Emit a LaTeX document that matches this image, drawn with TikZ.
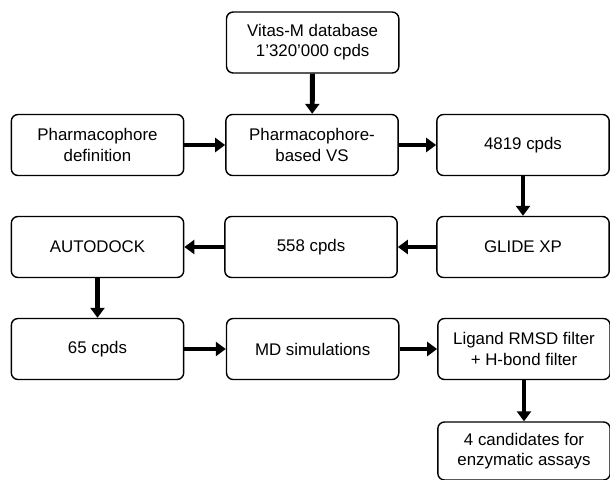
\documentclass[tikz,border=0pt]{standalone}
\usepackage{fontspec}
\setmainfont{Liberation Sans}
\usetikzlibrary{arrows.meta}

\begin{document}
\begin{tikzpicture}[
  >={Triangle[length=0.3cm,width=0.42cm]},
  every node/.style={font=\fontsize{14.4}{17.3}\selectfont},
  step box/.style={rectangle,rounded corners=0.2cm,draw,line width=1.2pt,minimum width=5.17cm,minimum height=1.83cm,inner sep=2pt,align=center,fill=white},
  flow arrow/.style={->,line width=4.2pt,draw=black},
]
\useasboundingbox (0,0) rectangle (18.3,-14.37);
\node[step box] (vitas) at (9.38,-1.275) {Vitas-M database\\1'320'000 cpds};
\node[step box] (pdef) at (2.925,-4.35) {Pharmacophore\\definition};
\node[step box] (pvs) at (9.36,-4.35) {Pharmacophore-\\based VS};
\node[step box] (c4819) at (15.69,-4.35) {4819 cpds};
\node[step box] (autodock) at (2.925,-7.41) {AUTODOCK};
\node[step box] (c558) at (9.33,-7.41) {558 cpds};
\node[step box] (glide) at (15.69,-7.41) {GLIDE XP};
\node[step box] (c65) at (2.925,-10.47) {65 cpds};
\node[step box] (md) at (9.38,-10.47) {MD simulations};
\node[step box] (filter) at (15.72,-10.47) {Ligand RMSD filter\\+ H-bond filter};
\node[step box,minimum height=1.74cm] (cand) at (15.72,-13.53) {4 candidates for\\enzymatic assays};
\draw[flow arrow] (vitas) -- (pvs);
\draw[flow arrow] (pdef) -- (pvs);
\draw[flow arrow] (pvs) -- (c4819);
\draw[flow arrow] (c4819) -- (glide);
\draw[flow arrow] (glide) -- (c558);
\draw[flow arrow] (c558) -- (autodock);
\draw[flow arrow] (autodock) -- (c65);
\draw[flow arrow] (c65) -- (md);
\draw[flow arrow] (md) -- (filter);
\draw[flow arrow] (filter) -- (cand);
\end{tikzpicture}
\end{document}
